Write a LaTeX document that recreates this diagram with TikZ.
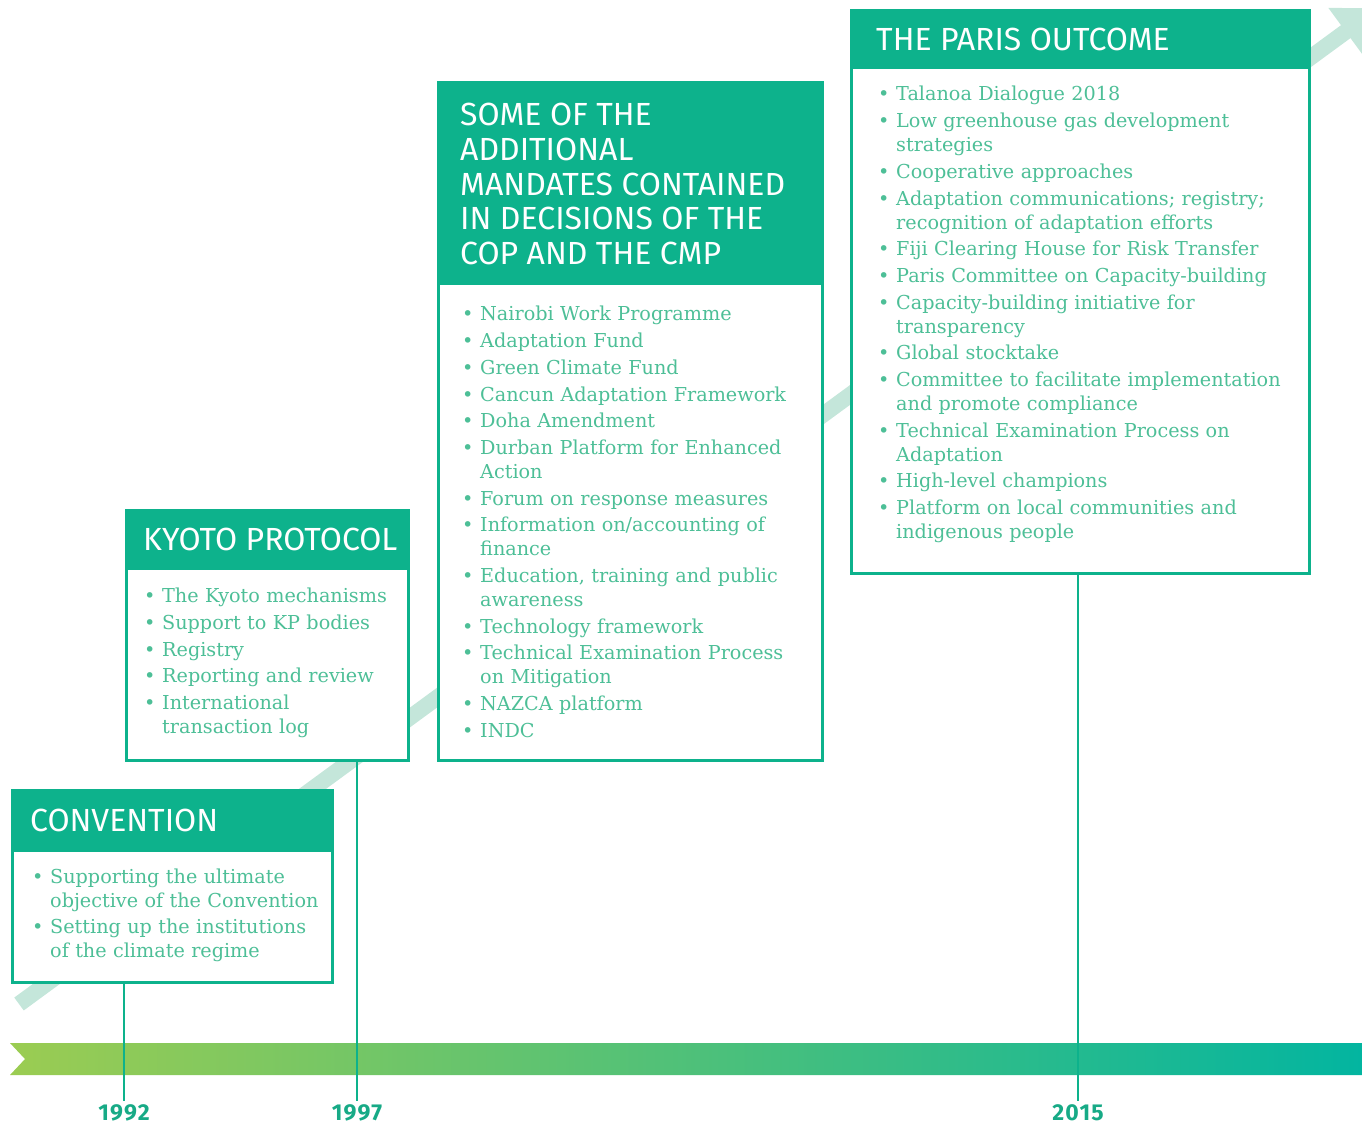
\documentclass[tikz,border=0pt]{standalone}
\usepackage{fontspec}
\usetikzlibrary{arrows.meta}
\newfontfamily\headfont{Fira Sans}
\newfontfamily\bodyfont{DejaVu Serif}
\newfontfamily\yearfont[LetterSpace=5]{Fira Sans}
\definecolor{hgreen}{HTML}{0DB28C}
\definecolor{tgreen}{HTML}{4DBF97}
\definecolor{pale}{HTML}{C4E6DA}
\definecolor{barL}{HTML}{9BCC52}
\definecolor{barR}{HTML}{03B5A0}
\definecolor{ygreen}{HTML}{17AA86}
\newcommand\bitem[1]{\par\hangindent=18pt\hangafter=1\noindent\makebox[18pt][l]{\textbullet}#1}
\tikzset{
  frame/.style={draw=hgreen, line width=2.6pt, fill=white, inner sep=0pt, anchor=north west},
  headbar/.style={fill=hgreen, inner sep=0pt, anchor=north west},
  headtxt/.style={anchor=west, inner sep=0pt, text=white, align=left,
     font=\headfont\fontsize{32}{34.7}\selectfont},
  body/.style={anchor=north west, inner sep=0pt, text=tgreen,
     font=\bodyfont\fontsize{19.2}{24}\selectfont},
  vline/.style={draw=hgreen, line width=2.6pt},
  year/.style={text=ygreen, font=\yearfont\bfseries\fontsize{23}{26}\selectfont, inner sep=2pt}
}
\begin{document}
\begin{tikzpicture}[x=1pt,y=-1pt]
\useasboundingbox (0,0) rectangle (1362,1125);
% diagonal arrow
\coordinate (dstart) at (19,1004);
\coordinate (dend) at (1378,8);
\draw[pale, line width=16pt, -{Triangle[width=56pt,length=40pt]}] (dstart) -- (dend);
% bottom bar
\shade[left color=barL, right color=barR] (10,1043) -- (1362,1043) -- (1362,1075) -- (10,1075) -- (25,1059) -- cycle;
% years
\node[year] (y1992) at (124,1113) {1992};
\node[year] (y1997) at (357,1113) {1997};
\node[year] (y2015) at (1078,1113) {2015};
% Convention
\node[frame, minimum width=320, minimum height=192] (conv) at (11,789) {};
\node[headbar, minimum width=320, minimum height=63] (convh) at (conv.north west) {};
\node[headtxt] (convt) at ([xshift=19pt]convh.west) {CONVENTION};
\node[body, text width=300] (convb) at (32,857) {\raggedright\parskip=2pt
\bitem{Supporting the ultimate\newline objective of the Convention}
\bitem{Setting up the institutions\newline of the climate regime}\par};
% Kyoto
\node[frame, minimum width=282, minimum height=250] (kyoto) at (125,509) {};
\node[headbar, minimum width=282, minimum height=61] (kyotoh) at (kyoto.north west) {};
\node[headtxt] (kyotot) at ([xshift=18pt]kyotoh.west) {KYOTO PROTOCOL};
\node[body, text width=270] (kyotob) at (144,576) {\raggedright\parskip=2.6pt
\bitem{The Kyoto mechanisms}
\bitem{Support to KP bodies}
\bitem{Registry}
\bitem{Reporting and review}
\bitem{International\newline transaction log}\par};
% Mandates
\node[frame, minimum width=384, minimum height=678] (mand) at (437,81) {};
\node[headbar, minimum width=384, minimum height=204] (mandh) at (mand.north west) {};
\node[headtxt] (mandt) at ([xshift=23pt,yshift=-1pt]mandh.west) {SOME OF THE\\ADDITIONAL\\MANDATES CONTAINED\\IN DECISIONS OF THE\\COP AND THE CMP};
\node[body, text width=360] (mandb) at (462,294) {\raggedright\parskip=2.7pt
\bitem{Nairobi Work Programme}
\bitem{Adaptation Fund}
\bitem{Green Climate Fund}
\bitem{Cancun Adaptation Framework}
\bitem{Doha Amendment}
\bitem{Durban Platform for Enhanced\newline Action}
\bitem{Forum on response measures}
\bitem{Information on/accounting of\newline finance}
\bitem{Education, training and public\newline awareness}
\bitem{Technology framework}
\bitem{Technical Examination Process\newline on Mitigation}
\bitem{NAZCA platform}
\bitem{INDC}\par};
% Paris
\node[frame, minimum width=458, minimum height=563] (paris) at (850,9) {};
\node[headbar, minimum width=458, minimum height=60] (parish) at (paris.north west) {};
\node[headtxt] (parist) at ([xshift=26pt]parish.west) {THE PARIS OUTCOME};
\node[body, text width=440] (parisb) at (878,74) {\raggedright\parskip=2.7pt
\bitem{Talanoa Dialogue 2018}
\bitem{Low greenhouse gas development\newline strategies}
\bitem{Cooperative approaches}
\bitem{Adaptation communications; registry;\newline recognition of adaptation efforts}
\bitem{Fiji Clearing House for Risk Transfer}
\bitem{Paris Committee on Capacity-building}
\bitem{Capacity-building initiative for\newline transparency}
\bitem{Global stocktake}
\bitem{Committee to facilitate implementation\newline and promote compliance}
\bitem{Technical Examination Process on\newline Adaptation}
\bitem{High-level champions}
\bitem{Platform on local communities and\newline indigenous people}\par};
% connectors
\draw[vline] (conv.south -| y1992.north) -- ([yshift=2pt]y1992.north);
\draw[vline] (kyoto.south -| y1997.north) -- ([yshift=2pt]y1997.north);
\draw[vline] (paris.south -| y2015.north) -- ([yshift=2pt]y2015.north);
\end{tikzpicture}
\end{document}
